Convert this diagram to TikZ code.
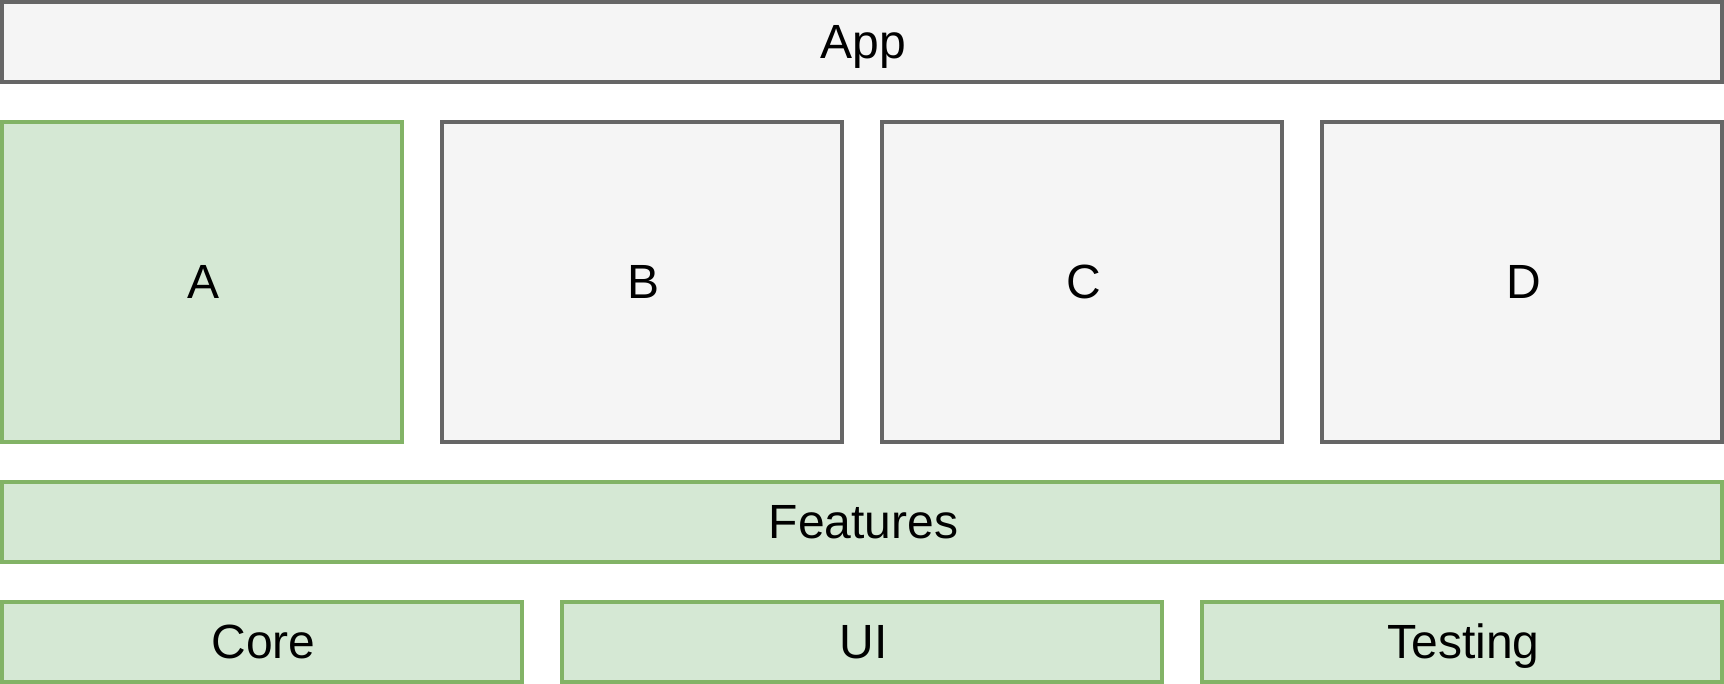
\documentclass[tikz,border=0pt]{standalone}
\usepackage{fontspec}
\setmainfont{Liberation Sans}
\definecolor{grayfill}{HTML}{F5F5F5}
\definecolor{graystroke}{HTML}{666666}
\definecolor{greenfill}{HTML}{D5E8D4}
\definecolor{greenstroke}{HTML}{82B366}
\begin{document}
\begin{tikzpicture}[x=1pt,y=-1pt,
  layer/.style={rectangle, line width=4pt, inner sep=0pt, outer sep=0pt,
    font=\fontsize{48}{58}\selectfont, text height=33pt, text depth=0pt},
  graybox/.style={layer, draw=graystroke, fill=grayfill},
  greenbox/.style={layer, draw=greenstroke, fill=greenfill}]
  \useasboundingbox (0,0) rectangle (1724,684);
  % top layer
  \node[graybox, minimum width=1720pt, minimum height=80pt] (app) at (862,42) {\hspace{3pt}App};
  % modules
  \node[greenbox, minimum width=400pt, minimum height=320pt] (a) at (202,282) {\hspace{3pt}A};
  \node[graybox, minimum width=400pt, minimum height=320pt] (b) at (642,282) {\hspace{3pt}B};
  \node[graybox, minimum width=400pt, minimum height=320pt] (c) at (1082,282) {\hspace{3pt}C};
  \node[graybox, minimum width=400pt, minimum height=320pt] (d) at (1522,282) {\hspace{3pt}D};
  % features layer
  \node[greenbox, minimum width=1720pt, minimum height=80pt] (features) at (862,522) {\hspace{3pt}Features};
  % base libraries
  \node[greenbox, minimum width=520pt, minimum height=80pt] (core) at (262,642) {\hspace{3pt}Core};
  \node[greenbox, minimum width=600pt, minimum height=80pt] (ui) at (862,642) {\hspace{3pt}UI};
  \node[greenbox, minimum width=520pt, minimum height=80pt] (testing) at (1462,642) {\hspace{3pt}Testing};
\end{tikzpicture}
\end{document}
